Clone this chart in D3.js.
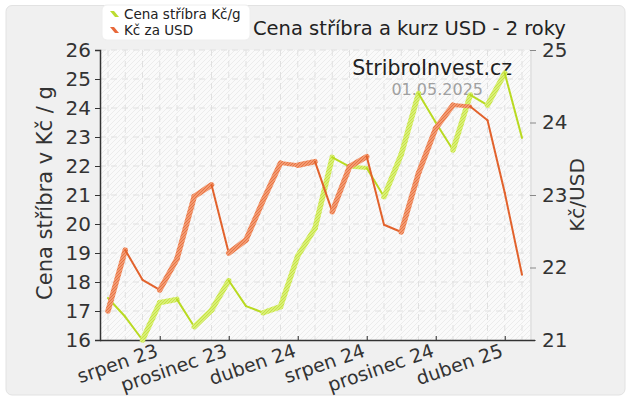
<!DOCTYPE html>
<html><head><meta charset="utf-8">
<script src="https://cdn.jsdelivr.net/npm/d3@7"></script>
<style>body{margin:0;background:#fff}svg{display:block;font-family:"DejaVu Sans",Verdana,sans-serif}</style>
</head><body>
<svg id="c" width="630" height="400"></svg>
<script>
const months = ["2023-05","2023-06","2023-07","2023-08","2023-09","2023-10","2023-11","2023-12","2024-01","2024-02","2024-03","2024-04","2024-05","2024-06","2024-07","2024-08","2024-09","2024-10","2024-11","2024-12","2025-01","2025-02","2025-03","2025-04","2025-05"];
const silver = [17.45,16.8,16.0,17.29,17.4,16.46,17.03,18.05,17.17,16.94,17.15,18.9,19.85,22.3,21.98,21.93,20.94,22.4,24.5,23.5,22.55,24.45,24.1,25.2,22.97];
const usd = [21.4,22.24,21.83,21.69,22.12,22.98,23.14,22.2,22.38,22.93,23.44,23.41,23.46,22.77,23.39,23.53,22.59,22.49,23.3,23.92,24.24,24.22,24.03,23.03,21.9];
const tickIdx = [3,7,11,15,19,23];
const tickLabels = ["srpen 23","prosinec 23","duben 24","srpen 24","prosinec 24","duben 25"];
const leftTicks = [16,17,18,19,20,21,22,23,24,25,26];
const rightTicks = [21,22,23,24,25];
const title = "Cena stříbra a kurz USD - 2 roky";
const seriesNames = ["Cena stříbra Kč/g","Kč za USD"];

const svg = d3.select("#c");
const defs = svg.append("defs");
const bg = defs.append("pattern").attr("id","bgh").attr("patternUnits","userSpaceOnUse").attr("width",5).attr("height",5);
bg.append("rect").attr("width",5).attr("height",5).attr("fill","#fafafa");
bg.append("path").attr("d","M0,5 L5,0 M-1,1 L1,-1 M4,6 L6,4").attr("stroke","#ececec").attr("stroke-width",1);
function stripe(id, base, line){
  const p = defs.append("pattern").attr("id",id).attr("patternUnits","userSpaceOnUse").attr("width",3).attr("height",3);
  p.append("rect").attr("width",3).attr("height",3).attr("fill",base);
  p.append("path").attr("d","M0,3 L3,0 M-1,1 L1,-1 M2,4 L4,2").attr("stroke",line).attr("stroke-width",0.9);
}
stripe("gS","#d8ef78","#c6e23c");
stripe("oS","#f29a72","#e6703e");

// outer panel
svg.append("rect").attr("x",6).attr("y",5.5).attr("width",619).attr("height",389.5).attr("rx",6)
  .attr("fill","#f0f0f0").attr("stroke","#e2e2e2");

const L=100,R=530,T=50,B=340;
const x = d3.scaleLinear().domain([0,months.length-1]).range([108,522]);
const yL = d3.scaleLinear().domain([16,26]).range([B,T]);
const yR = d3.scaleLinear().domain([21,25]).range([B,T]);

svg.append("rect").attr("x",L).attr("y",T).attr("width",R-L).attr("height",B-T).attr("fill","url(#bgh)");
svg.append("line").attr("x1",R+1).attr("x2",R+1).attr("y1",T).attr("y2",B).attr("stroke","#e4e4e4").attr("stroke-width",2);

// grid
const g = svg.append("g");
g.selectAll(".vg").data(months).join("line").attr("x1",(d,i)=>x(i)).attr("x2",(d,i)=>x(i)).attr("y1",T).attr("y2",B)
  .attr("stroke","#e0e0e0").attr("stroke-dasharray","6,5");
g.selectAll(".hg").data(leftTicks.slice(1)).join("line").attr("x1",L).attr("x2",R).attr("y1",d=>yL(d)).attr("y2",d=>yL(d))
  .attr("stroke","#e0e0e0").attr("stroke-dasharray","6,5");

// axes
const axL = svg.append("g").attr("transform",`translate(${L},0)`).call(d3.axisLeft(yL).tickValues(leftTicks).tickSize(5).tickPadding(4));
axL.select(".domain").attr("stroke","#333").attr("stroke-width",1.5);
axL.selectAll("line").attr("stroke","#333");
axL.selectAll("text").attr("font-size",20).attr("fill","#333").attr("font-family","DejaVu Sans");

const axR = svg.append("g").attr("transform",`translate(${R},0)`).call(d3.axisRight(yR).tickValues(rightTicks).tickFormat(d3.format("d")).tickSize(6).tickPadding(6));
axR.select(".domain").remove();
axR.selectAll("line").attr("stroke","#888");
axR.selectAll("text").attr("font-size",20).attr("fill","#333").attr("font-family","DejaVu Sans");

const axB = svg.append("g").attr("transform",`translate(0,${B})`)
  .call(d3.axisBottom(x).tickValues(tickIdx).tickFormat((d,i)=>tickLabels[i]).tickSize(-4).tickSizeOuter(0));
axB.select(".domain").attr("d",`M${L},0.5H${R+5}`).attr("stroke","#333").attr("stroke-width",1.5);
axB.selectAll("line").attr("stroke","#333");
axB.selectAll("text").attr("font-size",19).attr("fill","#333").attr("font-family","DejaVu Sans")
  .attr("text-anchor","end").attr("y",0).attr("dy",0)
  .attr("transform","translate(-1,16) rotate(-19)");

// axis titles
svg.append("text").attr("transform",`translate(52,${(T+B)/2-2}) rotate(-90)`).attr("text-anchor","middle")
  .attr("font-size",21).attr("fill","#333").text("Cena stříbra v Kč / g");
svg.append("text").attr("transform",`translate(584,${(T+B)/2}) rotate(-90)`).attr("text-anchor","middle")
  .attr("font-size",20).attr("fill","#333").text("Kč/USD");

// watermark
svg.append("text").attr("x",512).attr("y",75).attr("text-anchor","end").attr("font-size",20.5).attr("fill","#222").text("StribroInvest.cz");
svg.append("text").attr("x",483).attr("y",95).attr("text-anchor","end").attr("font-size",16).attr("fill","#a0a0a0").text("01.05.2025");

// lines
function drawSeries(vals, y, thin, pat){
  const segs = d3.range(vals.length-1).map(i=>({i, x1:x(i), y1:y(vals[i]), x2:x(i+1), y2:y(vals[i+1])}));
  const gg = svg.append("g");
  gg.selectAll("line").data(segs).join("line")
    .attr("x1",d=>d.x1).attr("y1",d=>d.y1).attr("x2",d=>d.x2).attr("y2",d=>d.y2)
    .attr("stroke-linecap","round")
    .each(function(d){
      const dy = d.y1-d.y2;
      const s = d3.select(this);
      if(dy>3){ s.attr("stroke",`url(#${pat})`).attr("stroke-width",5.5); }
      else if(dy<-3){ s.attr("stroke",thin).attr("stroke-width",2); }
      else { s.attr("stroke",`url(#${pat})`).attr("stroke-width",4); }
    });
}
drawSeries(silver, yL, "#b9da22", "gS");
drawSeries(usd, yR, "#e2622c", "oS");

// title
svg.append("text").attr("x",253).attr("y",35).attr("font-size",19.5).attr("fill","#222").text(title);

// legend
svg.append("rect").attr("x",102).attr("y",5).attr("width",148).attr("height",35).attr("rx",5).attr("fill","#fff")
  .attr("stroke","#eee");
const legColors = ["#bcdc30","#e8683a"];
seriesNames.forEach((n,i)=>{
  const yy = 19 + i*16;
  svg.append("path").attr("d",`M110,${yy-8}L114,${yy-8}L119,${yy-2}L115,${yy-2}Z`).attr("fill",legColors[i]);
  svg.append("text").attr("x",124).attr("y",yy).attr("font-size",13.5).attr("fill","#222").text(n);
});
</script>
</body></html>
